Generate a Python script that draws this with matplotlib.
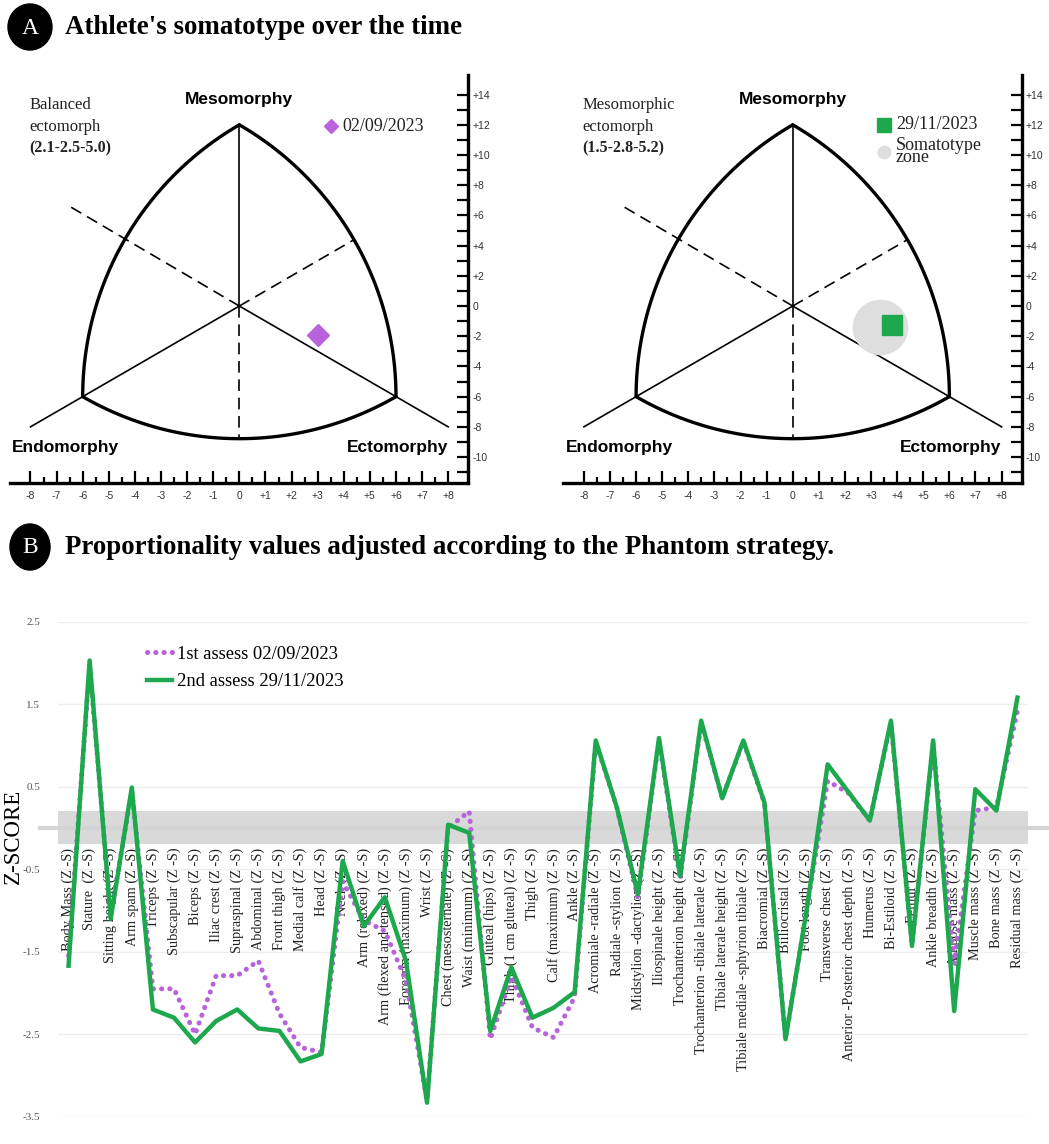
import numpy as np
import matplotlib.pyplot as plt
from matplotlib.patches import Ellipse

W, H = 1049, 1144

# ---- panel A data (somatochart coordinates)
chart_dates = ['02/09/2023', '29/11/2023']
chart_types = ['Balanced', 'Mesomorphic']
chart_types2 = ['ectomorph', 'ectomorph']
chart_ratings = ['(2.1-2.5-5.0)', '(1.5-2.8-5.2)']
soma_x = [3.0, 3.8]
soma_y = [-1.9, -1.25]
zone_x = 3.35
zone_y = -1.37

# ---- panel B data
labels = ['Body Mass (Z -S)', 'Stature  (Z -S)', 'Sitting height (Z -S)', 'Arm spam (Z -S)',
          'Triceps (Z -S)', 'Subscapular (Z -S)', 'Biceps (Z -S)', 'Iliac crest (Z -S)',
          'Supraspinal (Z -S)', 'Abdominal (Z -S)', 'Front thigh (Z -S)', 'Medial calf (Z -S)',
          'Head (Z -S)', 'Neck (Z -S)', 'Arm (relaxed) (Z -S)', 'Arm (flexed and tensed) (Z -S)',
          'Forearm (maximum) (Z -S)', 'Wrist (Z -S)', 'Chest (mesosternale) (Z -S)',
          'Waist (minimum) (Z -S)', 'Gluteal (hips) (Z -S)', 'Thigh (1 cm gluteal) (Z -S)',
          'Thigh (Z -S)', 'Calf (maximum) (Z -S)', 'Ankle (Z -S)', 'Acromiale -radiale (Z -S)',
          'Radiale -stylion (Z -S)', 'Midstylion -dactylion (Z -S)', 'Iliospinale height (Z -S)',
          'Trochanterion height (Z -S)', 'Trochanterion -tibiale laterale (Z -S)',
          'Tibiale laterale height (Z -S)', 'Tibiale mediale -sphyrion tibiale (Z -S)',
          'Biacromial (Z -S)', 'Biiliocristal (Z -S)', 'Foot length (Z -S)',
          'Transverse chest (Z -S)', 'Anterior -Posterior chest depth (Z -S)', 'Humerus (Z -S)',
          'Bi-Estiloid (Z -S)', 'Femur (Z -S)', 'Ankle breadth (Z -S)', 'Adipose mass (Z -S)',
          'Muscle mass (Z -S)', 'Bone mass (Z -S)', 'Residual mass (Z -S)']
first = [-1.55, 1.97, -1.05, 0.45, -1.95, -1.95, -2.50, -1.79, -1.79, -1.61, -2.25, -2.66,
         -2.72, -0.65, -1.12, -1.25, -1.85, -3.30, 0.00, 0.20, -2.56, -1.80, -2.42, -2.54,
         -2.05, 1.04, 0.25, -0.85, 1.07, -0.62, 1.28, 0.36, 1.05, 0.30, -2.56, -1.0, 0.57,
         0.42, 0.09, 1.28, -1.42, 1.02, -1.65, 0.21, 0.25, 1.42]
second = [-1.67, 2.03, -1.10, 0.49, -2.20, -2.30, -2.60, -2.34, -2.20, -2.43, -2.46, -2.83,
          -2.74, -0.40, -1.19, -0.84, -1.61, -3.33, 0.04, -0.06, -2.46, -1.69, -2.30, -2.18,
          -1.99, 1.06, 0.25, -0.80, 1.09, -0.58, 1.30, 0.36, 1.06, 0.31, -2.56, -1.0, 0.77,
          0.43, 0.09, 1.30, -1.43, 1.06, -2.22, 0.47, 0.21, 1.58]
yticks_b = [2.5, 1.5, 0.5, -0.5, -1.5, -2.5, -3.5]

purple = '#b863dc'
green = '#1ea84d'
serif = 'Liberation Serif'
sans = 'Liberation Sans'

fig = plt.figure(figsize=(W / 100, H / 100), dpi=100)


def px(x, y):
    return x / W, 1 - y / H


def arc(cx, cy, a0, a1):
    # circle arc in the isotropic (x, y/sqrt3) space, mapped back to chart units
    r3 = np.sqrt(3)
    t = np.radians(np.linspace(a0, a1, 100))
    return cx + 12 * np.cos(t), (cy / r3 + 12 * np.sin(t)) * r3


def somatochart(ax, k):
    ax.set_xlim(-8.8, 8.77)
    ax.set_ylim(-11.7, 15.3)
    for s in ['top', 'left']:
        ax.spines[s].set_visible(False)
    for s in ['bottom', 'right']:
        ax.spines[s].set_linewidth(2.4)
    ax.patch.set_alpha(0)

    # outline (Reuleaux triangle)
    for cx, cy, a0, a1 in [(6, -6, 120, 180), (-6, -6, 0, 60), (0, 12, 240, 300)]:
        xs, ys = arc(cx, cy, a0, a1)
        ax.plot(xs, ys, color='black', lw=2.4, solid_capstyle='round', zorder=3)

    ax.plot([0, 0], [0, 12], color='black', lw=1.2)
    ax.plot([0, -8], [0, -8], color='black', lw=1.2)
    ax.plot([0, 8], [0, -8], color='black', lw=1.2)
    ax.plot([0, -6.45], [0, 6.55], color='black', lw=1.2, ls=(0, (7, 4)))
    ax.plot([0, 4.39], [0, 4.39], color='black', lw=1.2, ls=(0, (7, 4)))
    ax.plot([0, 0], [0, -8.78], color='black', lw=1.2, ls=(0, (7, 4)))

    ax.text(0, 13.7, 'Mesomorphy', ha='center', va='center', fontsize=12.5,
            fontweight='bold', family=sans)
    ax.text(-6.65, -9.36, 'Endomorphy', ha='center', va='center', fontsize=12.5,
            fontweight='bold', family=sans)
    ax.text(6.05, -9.36, 'Ectomorphy', ha='center', va='center', fontsize=12.5,
            fontweight='bold', family=sans)

    ax.text(-8.05, 13.3, chart_types[k], ha='left', va='center', fontsize=12,
            family=serif, color='#222222')
    ax.text(-8.05, 11.88, chart_types2[k], ha='left', va='center', fontsize=12,
            family=serif, color='#222222')
    ax.text(-8.05, 10.42, chart_ratings[k], ha='left', va='center', fontsize=11.5,
            family=serif, fontweight='bold', color='#222222')

    # ticks
    ax.set_xticks(np.arange(-8, 9))
    ax.set_xticklabels([('+%d' % v if v > 0 else '%d' % v) for v in range(-8, 9)])
    ax.set_xticks(np.arange(-7.5, 8, 1), minor=True)
    ax.yaxis.tick_right()
    ax.set_yticks(np.arange(-10, 15, 2))
    ax.set_yticklabels([('+%d' % v if v > 0 else '%d' % v) for v in range(-10, 15, 2)])
    ax.set_yticks(np.arange(-11, 14, 2), minor=True)
    ax.tick_params(axis='x', which='major', direction='in', length=9, width=1.6,
                   labelsize=7.5, pad=6, labelcolor='#333333')
    ax.tick_params(axis='x', which='minor', direction='in', length=4, width=1.6)
    ax.tick_params(axis='y', which='major', direction='in', length=8, width=1.6,
                   labelsize=7.5, pad=3, labelcolor='#333333')
    ax.tick_params(axis='y', which='minor', direction='in', length=8, width=1.6)
    for t in ax.get_xticklabels() + ax.get_yticklabels():
        t.set_family(sans)


# ---- panel A, left chart
ax1 = fig.add_axes([9.6 / W, 1 - 482.7 / H, 458.7 / W, 407.7 / H])
somatochart(ax1, 0)
ax1.plot(soma_x[0], soma_y[0], marker='D', ms=11, color=purple, mec=purple, zorder=5)
ax1.plot(3.5, 11.9, marker='D', ms=7.5, color=purple, mec=purple, zorder=5)
ax1.text(3.95, 11.9, chart_dates[0], ha='left', va='center', fontsize=13, family=serif,
         color='#222222')

# ---- panel A, right chart
ax2 = fig.add_axes([563 / W, 1 - 482.7 / H, 458.7 / W, 407.7 / H])
somatochart(ax2, 1)
ax2.plot(zone_x, zone_y, marker='o', ms=39, color='#dedede', mec='#dedede', zorder=4)
ax2.plot(soma_x[1], soma_y[1], marker='s', ms=14.5, color=green, mec=green, zorder=5)
ax2.plot(3.5, 12.0, marker='s', ms=10, color=green, mec=green, zorder=5)
ax2.text(3.95, 12.0, chart_dates[1], ha='left', va='center', fontsize=13, family=serif,
         color='#222222')
ax2.plot(3.5, 10.2, marker='o', ms=9, color='#dedede', mec='#dedede', zorder=5)
ax2.text(3.95, 10.25, 'Somatotype\nzone', ha='left', va='center', fontsize=13,
         family=serif, linespacing=0.6, color='#222222')

# ---- panel headers
for (cx, cy, w, h), letter, title in [((30, 27, 44, 46), 'A', "Athlete's somatotype over the time"),
                                      ((30, 547, 40, 46), 'B', 'Proportionality values adjusted according to the Phantom strategy.')]:
    e = Ellipse(px(cx, cy), w / W, h / H, transform=fig.transFigure, color='black')
    fig.patches.append(e)
    fig.text(*px(cx, cy + 1), letter, color='white', ha='center', va='center', fontsize=17,
             family=serif)
    fig.text(*px(65, cy + 1), title, ha='left', va='center', fontsize=19.4, family=serif,
             fontweight='bold')

# ---- panel B
ax = fig.add_axes([58 / W, 1 - 1116.7 / H, 970 / W, 495 / H])
x = np.arange(len(labels))
ax.set_xlim(-0.5, len(labels) - 0.5)
ax.set_ylim(-3.5, 2.5)
for s in ax.spines.values():
    s.set_visible(False)
ax.set_xticks([])
ax.set_yticks(yticks_b)
ax.set_yticklabels(['%.1f' % v for v in yticks_b], family=serif, fontsize=8, color='#555555')
ax.tick_params(axis='y', length=0, pad=13)
ax.grid(axis='y', color='#eeeeee', lw=1)
ax.set_axisbelow(True)

ax.axhspan(-0.2, 0.2, color='#d9d9d9', zorder=1, lw=0)
ax.plot([-1.35, len(labels) + 0.4], [0, 0], color='#d4d4d4', lw=3, clip_on=False, zorder=1)

for i, lab in enumerate(labels):
    ax.text(i, -0.24, lab, rotation=90, ha='center', va='top', fontsize=10.3, family=serif,
            color='#222222', zorder=2)

ax.plot(x, first, color=purple, lw=3.6, ls=(0, (0.05, 1.6)), dash_capstyle='round',
        zorder=3, label='1st assess 02/09/2023')
ax.plot(x, second, color=green, lw=3.2, zorder=4, label='2nd assess 29/11/2023')
leg = ax.legend(loc='upper left', bbox_to_anchor=(0.074, 0.985), frameon=False,
                prop={'family': serif, 'size': 13.4}, handlelength=1.35, handletextpad=0.3,
                labelspacing=0.55)

fig.text(*px(13, 836), 'Z-SCORE', rotation=90, ha='center', va='center', fontsize=16.5,
         family=serif)

plt.savefig('out.png', dpi=100)
